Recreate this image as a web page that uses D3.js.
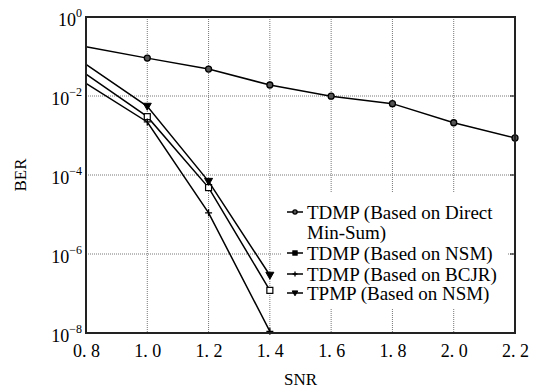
<!DOCTYPE html>
<html>
<head>
<meta charset="utf-8">
<script src="https://cdn.jsdelivr.net/npm/d3@7"></script>
<style>
  body { margin: 0; background: #fff; }
  svg text { font-family: "Liberation Serif", "DejaVu Serif", serif; fill: #000; }
</style>
</head>
<body>
<div id="chart"></div>
<script>
// values
var snr = [0.8, 1.0, 1.2, 1.4, 1.6, 1.8, 2.0, 2.2]
var berDirect = [0.176, 0.091, 0.048, 0.019, 0.0099, 0.0064, 0.0021, 0.00087]
var snrShort = [0.8, 1.0, 1.2, 1.4]
var berNSM = [0.036, 0.003, 4.8e-5, 1.2e-7]
var berBCJR = [0.021, 0.0022, 1.1e-5, 1.1e-8]
var berTPMP = [0.063, 0.0055, 6.9e-5, 2.9e-7]
var xTicks = [0.8, 1.0, 1.2, 1.4, 1.6, 1.8, 2.0, 2.2]
var yExps = [0, -2, -4, -6, -8]
var labels = ["TDMP (Based on Direct", "TDMP (Based on NSM)", "TDMP (Based on BCJR)", "TPMP (Based on NSM)"]

var margin = {top: 17, right: 28, bottom: 56, left: 86}
var width = 543 - margin.left - margin.right
var height = 389 - margin.top - margin.bottom

var svg = d3.select("#chart").append("svg")
  .attr("width", 543)
  .attr("height", 389)
var g = svg.append("g")
  .attr("transform", "translate(" + margin.left + "," + margin.top + ")")

var x = d3.scaleLinear().domain([0.8, 2.2]).range([0, width])
var y = d3.scaleLog().domain([1e-8, 1]).range([height, 0])

// grid
g.selectAll(".vgrid").data(xTicks.slice(1, -1)).enter().append("line")
  .attr("x1", d => x(d)).attr("x2", d => x(d))
  .attr("y1", 0).attr("y2", height)
  .attr("stroke", "#777").attr("stroke-width", 1).attr("stroke-dasharray", "1,1")
g.selectAll(".hgrid").data(yExps.slice(1, -1)).enter().append("line")
  .attr("x1", 0).attr("x2", width)
  .attr("y1", d => y(Math.pow(10, d))).attr("y2", d => y(Math.pow(10, d)))
  .attr("stroke", "#777").attr("stroke-width", 1).attr("stroke-dasharray", "1,1")

// axes via d3
var xAxis = g.append("g")
  .attr("transform", "translate(0," + height + ")")
  .call(d3.axisBottom(x).tickValues(xTicks).tickSize(0).tickPadding(11)
    .tickFormat(d => d3.format(".1f")(d).replace(".", ". ")))
xAxis.select(".domain").remove()
xAxis.selectAll("text").attr("font-size", 18).attr("dy", "0.71em")

var yAxis = g.append("g")
  .call(d3.axisLeft(y).tickValues(yExps.map(e => Math.pow(10, e))).tickSize(0).tickPadding(4)
    .tickFormat(""))
yAxis.select(".domain").remove()
yAxis.selectAll(".tick").each(function(d) {
  var e = Math.round(Math.log10(d))
  var t = d3.select(this).select("text")
    .attr("font-size", 18).attr("dy", "0.45em").attr("x", -4)
  t.append("tspan").text("10")
  t.append("tspan").attr("font-size", 12).attr("dy", "-0.75em")
    .text(e === 0 ? "0" : "\u2212" + (-e))
})

// right side inward ticks
g.selectAll(".rtick").data(yExps.slice(1, -1)).enter().append("line")
  .attr("x1", width - 5).attr("x2", width)
  .attr("y1", d => y(Math.pow(10, d))).attr("y2", d => y(Math.pow(10, d)))
  .attr("stroke", "#000")

// series
var line = d3.line().x(d => x(d[0])).y(d => y(d[1]))
var series = [
  {pts: d3.zip(snr, berDirect), m: "circle"},
  {pts: d3.zip(snrShort, berNSM), m: "square"},
  {pts: d3.zip(snrShort, berBCJR), m: "plus"},
  {pts: d3.zip(snrShort, berTPMP), m: "tri"}
]

function marker(sel, type, cx, cy, s) {
  if (type === "circle") {
    sel.append("circle").attr("cx", cx).attr("cy", cy).attr("r", 3 * s)
      .attr("fill", "#555").attr("stroke", "#000").attr("stroke-width", 1.3)
  } else if (type === "square") {
    sel.append("rect").attr("x", cx - 3 * s).attr("y", cy - 3 * s)
      .attr("width", 6 * s).attr("height", 6 * s)
      .attr("fill", s < 1 ? "#000" : "#fff").attr("stroke", "#000").attr("stroke-width", 1.2)
  } else if (type === "plus") {
    sel.append("path")
      .attr("d", "M" + (cx - 3.5 * s) + "," + cy + "H" + (cx + 3.5 * s) + "M" + cx + "," + (cy - 3.5 * s) + "V" + (cy + 3.5 * s))
      .attr("stroke", "#000").attr("stroke-width", 1.3)
  } else {
    sel.append("path")
      .attr("d", "M" + (cx - 4 * s) + "," + (cy - 3 * s) + "L" + (cx + 4 * s) + "," + (cy - 3 * s) + "L" + cx + "," + (cy + 4 * s) + "Z")
      .attr("fill", "#000").attr("stroke", "#000").attr("stroke-width", 1)
  }
}

series.forEach(function(s) {
  g.append("path").datum(s.pts).attr("d", line)
    .attr("fill", "none").attr("stroke", "#000").attr("stroke-width", 1.5)
  // no marker on the first point (0.8)
  s.pts.slice(1).forEach(function(p) { marker(g, s.m, x(p[0]), y(p[1]), 1) })
})

// frame
g.append("rect").attr("width", width).attr("height", height)
  .attr("fill", "none").attr("stroke", "#222").attr("stroke-width", 2)

// legend
var lg = g.append("g").attr("transform", "translate(" + (281 - margin.left) + "," + (193 - margin.top) + ")")
lg.append("rect").attr("width", 227).attr("height", 115).attr("fill", "#fff")
var rowY = [19, 60, 81, 100]
series.forEach(function(s, i) {
  lg.append("line").attr("x1", 6).attr("x2", 22).attr("y1", rowY[i]).attr("y2", rowY[i])
    .attr("stroke", "#000").attr("stroke-width", 1.5)
  marker(lg, s.m, 14, rowY[i], 0.7)
  lg.append("text").attr("x", 26).attr("y", rowY[i]).attr("dy", "0.35em")
    .attr("font-size", 19).text(labels[i])
})
lg.append("text").attr("x", 26).attr("y", 39).attr("dy", "0.35em")
  .attr("font-size", 19).text("Min-Sum)")

// axis titles
svg.append("text").attr("x", margin.left + width / 2).attr("y", 385)
  .attr("text-anchor", "middle").attr("font-size", 17).text("SNR")
svg.append("text").attr("transform", "translate(26," + (margin.top + height / 2) + ") rotate(-90)")
  .attr("text-anchor", "middle").attr("font-size", 17).text("BER")
</script>
</body>
</html>
